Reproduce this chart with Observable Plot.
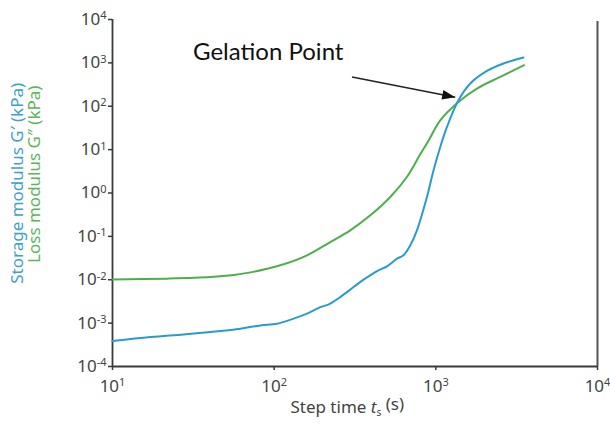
<!DOCTYPE html>
<html>
<head>
<meta charset="utf-8">
<script src="https://cdn.jsdelivr.net/npm/d3@7"></script>
<script src="https://cdn.jsdelivr.net/npm/@observablehq/plot@0.6"></script>
<style>
  html, body { margin: 0; padding: 0; background: #fff; }
  #chart { width: 610px; height: 426px; }
</style>
</head>
<body>
<div id="chart"></div>
<script>
// ---- Data ----
const storageTime = [10, 17.2, 27.6, 46.5, 61.8, 82.2, 104.2, 132, 159.6, 193, 217.5, 256.6, 309.9, 357.3, 432.5, 498.7, 575.4, 631, 695, 764, 881, 968, 1065, 1172, 1380, 1633, 2070, 2620, 3483];
const storageModulus = [3.85e-4, 4.76e-4, 5.5e-4, 6.56e-4, 7.45e-4, 8.87e-4, 9.7e-4, 1.27e-3, 1.65e-3, 2.34e-3, 2.71e-3, 3.99e-3, 6.79e-3, 0.01005, 0.0159, 0.0204, 0.0307, 0.0366, 0.0622, 0.138, 0.809, 3.34, 11.5, 33.3, 137, 334, 652, 966, 1328];

const lossTime = [10, 21.8, 40.4, 56.2, 71.3, 90.4, 114.5, 159.6, 222.3, 295.6, 393.5, 522.6, 662, 801, 897, 1065, 1380, 1795, 2500, 3516];
const lossModulus = [0.0101, 0.0106, 0.0115, 0.0128, 0.0148, 0.0180, 0.0227, 0.0366, 0.0741, 0.138, 0.306, 0.809, 2.34, 7.8, 15.6, 47.5, 125.6, 256, 474, 883];

const xTicks = [10, 100, 1000, 10000];
const xTickLabels = ["10^1", "10^2", "10^3", "10^4"];
const yTicks = [1e-4, 1e-3, 1e-2, 1e-1, 1, 10, 100, 1000, 10000];
const yTickLabels = ["10^-4", "10^-3", "10^-2", "10^-1", "10^0", "10^1", "10^2", "10^3", "10^4"];

const annotationText = ["Gelation Point"];
const annotationTextAt = [{t: 31.5, g: 1762}];
const arrowFrom = [{t: 303, g: 474}];
const arrowTo = [{t: 1318, g: 161.5}];

const xTitle = "Step time t_s (s)";
const yTitleStorage = "Storage modulus G\u2032 (kPa)";
const yTitleLoss = "Loss modulus G\u2033 (kPa)";

// ---- Build tables ----
const storage = storageTime.map((t, i) => ({t, g: storageModulus[i]}));
const loss = lossTime.map((t, i) => ({t, g: lossModulus[i]}));
const arrows = arrowFrom.map((a, i) => ({x1: a.t, y1: a.g, x2: arrowTo[i].t, y2: arrowTo[i].g}));

const blue = "#2a9bd2";
const green = "#4fae4c";
const axisColor = "#3a3a3a";
const tickFont = "'Noto Sans', sans-serif";

const headSymbol = {
  draw(context) {
    context.moveTo(0, 0);
    context.lineTo(-13, -4.8);
    context.lineTo(-13, 4.8);
    context.closePath();
  }
};

const chart = Plot.plot({
  width: 610,
  height: 426,
  marginLeft: 112,
  marginRight: 13,
  marginTop: 19,
  marginBottom: 60,
  style: {background: "#fff", fontFamily: tickFont},
  x: {type: "log", domain: [10, 10000]},
  y: {type: "log", domain: [1e-4, 1e4]},
  marks: [
    Plot.axisX({ticks: xTicks, tickFormat: d => xTickLabels[xTicks.indexOf(d)], tickSize: 4, tickPadding: 9,
      fontSize: 17, stroke: axisColor, strokeWidth: 1.5, fill: "#444", label: null}),
    Plot.axisY({ticks: yTicks, tickFormat: d => yTickLabels[yTicks.indexOf(d)], tickSize: 4, tickPadding: 2,
      fontSize: 17, stroke: axisColor, strokeWidth: 1.5, fill: "#444", label: null}),
    Plot.ruleX([10], {stroke: axisColor, strokeWidth: 1.8}),
    Plot.ruleX([10000], {stroke: "#555", strokeWidth: 2, y1: 9000, y2: 1e-4}),
    Plot.ruleY([1e-4], {stroke: axisColor, strokeWidth: 1.8}),
    Plot.line(loss, {x: "t", y: "g", stroke: green, strokeWidth: 2, curve: "catmull-rom"}),
    Plot.line(storage, {x: "t", y: "g", stroke: blue, strokeWidth: 2, curve: "catmull-rom"}),
    Plot.link(arrows, {x1: "x1", y1: "y1", x2: "x2", y2: "y2", stroke: "#222", strokeWidth: 1.5}),
    Plot.dot(arrows, {x: "x2", y: "y2", symbol: headSymbol, fill: "#111", stroke: "none", rotate: 11}),
    Plot.text(annotationTextAt, {x: "t", y: "g", text: (d, i) => annotationText[i], textAnchor: "start",
      lineAnchor: "middle", fontSize: 24, fontFamily: "Lato, sans-serif", fill: "#111"}),
    Plot.text([xTitle], {x: [283], frameAnchor: "bottom", dy: 46, text: d => d, fontSize: 17,
      textAnchor: "middle", fill: "#444", className: "xtitle"}),
    Plot.text([yTitleStorage], {y: [1.67], frameAnchor: "left", dx: -95, rotate: -90, text: d => d,
      textAnchor: "middle", fontSize: 17, fill: "#3da1cc"}),
    Plot.text([yTitleLoss], {y: [2.7], frameAnchor: "left", dx: -78, rotate: -90, text: d => d,
      textAnchor: "middle", fontSize: 17, fill: "#5db55a"})
  ]
});

document.getElementById("chart").appendChild(chart);

// superscript exponents in tick labels
const svg = d3.select(chart);
svg.selectAll('g[aria-label="x-axis tick label"] text, g[aria-label="y-axis tick label"] text').each(function() {
  const el = d3.select(this);
  const s = el.text();
  const parts = s.split("^");
  if (parts.length !== 2) return;
  el.text(parts[0]);
  el.append("tspan").attr("dy", "-0.5em").attr("font-size", "11px").text(parts[1]);
});
// italic t with subscript s in x title
svg.selectAll("g.xtitle text").each(function() {
  const el = d3.select(this);
  el.text("Step time ");
  el.append("tspan").attr("font-style", "italic").text("t");
  el.append("tspan").attr("font-size", "10px").attr("dy", "0.35em").text("s");
  el.append("tspan").attr("dy", "-0.35em").text(" (s)");
});
</script>
</body>
</html>
